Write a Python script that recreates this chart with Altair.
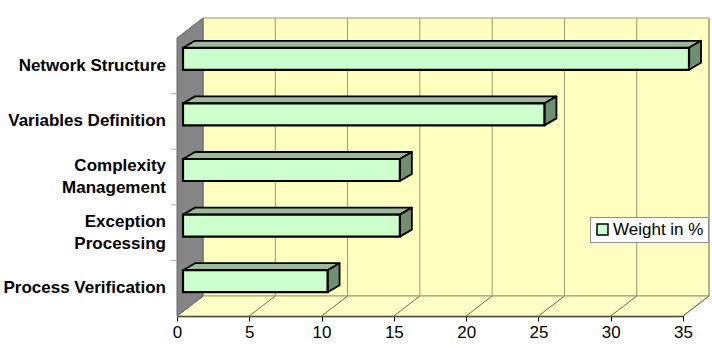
import altair as alt
import pandas as pd

# ---- data ----
categories = ["Network Structure", "Variables Definition", "Complexity\nManagement",
              "Exception\nProcessing", "Process Verification"]
weights = [35, 25, 15, 15, 10]
x_ticks = [0, 5, 10, 15, 20, 25, 30, 35]
series_name = "Weight in %"

# ---- layout / style constants ----
W, H = 506, 278
XMAX = 35
N = len(categories)
PX_X = W / XMAX
PX_Y = H / N
WALL_DX, WALL_DY = 26 / PX_X, 20 / PX_Y
BAR_X0 = 6 / PX_X
BAR_LIFT = 7 / PX_Y
BAR_HALF = 11 / PX_Y
BAR_DX, BAR_DY = 12 / PX_X, 7 / PX_Y
LABEL_LH = 22

FONT = "Liberation Sans"
XS = alt.Scale(domain=[0, XMAX], nice=False, zero=False)
YS = alt.Scale(domain=[0, N], nice=False, zero=False)
X_AXIS = alt.Axis(values=x_ticks, title=None, grid=False, labelFont=FONT, labelFontSize=17,
                  labelColor="black", domainColor="black", domainWidth=1.5, tickColor="black",
                  tickSize=5, labelPadding=3, labelFlush=False)
Y_AXIS = None

# ---- frames built from the arrays ----
rows = []
for j, (c, v) in enumerate(zip(categories, weights)):
    slot = N - 1 - j
    nl = c.count("\n")
    rows.append(dict(label=c, v=v, center=slot + 0.5,
                     label_y=slot + 0.5 + nl * LABEL_LH / 2 / PX_Y, series=series_name))
bars = pd.DataFrame(rows)
bars["x0"] = BAR_X0
bars["x1"] = bars["v"] + BAR_X0
bars["yb"] = bars["center"] + BAR_LIFT - BAR_HALF
bars["yt"] = bars["center"] + BAR_LIFT + BAR_HALF


def poly(pid, pts):
    return [dict(id=pid, k=i, x=px, y=py) for i, (px, py) in enumerate(pts + [pts[0]])]


top_rows, side_rows = [], []
for r in bars.to_dict("records"):
    x0, x1, yb, yt = r["x0"], r["x1"], r["yb"], r["yt"]
    top_rows += poly(r["label"], [(x0, yt), (x1, yt), (x1 + BAR_DX, yt + BAR_DY), (x0 + BAR_DX, yt + BAR_DY)])
    side_rows += poly(r["label"], [(x1, yb), (x1, yt), (x1 + BAR_DX, yt + BAR_DY), (x1 + BAR_DX, yb + BAR_DY)])
tops = pd.DataFrame(top_rows)
sides = pd.DataFrame(side_rows)

wall = pd.DataFrame([dict(x=WALL_DX, x2=XMAX + WALL_DX, y=WALL_DY, y2=N + WALL_DY)])
grid = pd.DataFrame(dict(x=[t + WALL_DX for t in x_ticks], y=WALL_DY, y2=N + WALL_DY))
floor = pd.DataFrame(poly("floor", [(0, 0), (XMAX, 0), (XMAX + WALL_DX, WALL_DY), (WALL_DX, WALL_DY)]))
floor_grid = pd.DataFrame(dict(x=x_ticks, x2=[t + WALL_DX for t in x_ticks], y=0, y2=WALL_DY))
side_wall = pd.DataFrame(poly("side", [(0, 0), (0, N), (WALL_DX, N + WALL_DY), (WALL_DX, WALL_DY)]))
ytick = pd.DataFrame(dict(y=list(range(1, N))))

GRID_C = "#9a9a6e"


def polygon_layer(df, fill, stroke, sw):
    return alt.Chart(df).mark_line(fill=fill, stroke=stroke, strokeWidth=sw,
                                   strokeJoin="round", interpolate="linear").encode(
        x=alt.X("x:Q", scale=XS, axis=X_AXIS),
        y=alt.Y("y:Q", scale=YS, axis=Y_AXIS),
        detail="id:N", order="k:Q")


back = alt.Chart(wall).mark_rect(fill="#FFFFC0", stroke=GRID_C, strokeWidth=1).encode(
    x=alt.X("x:Q", scale=XS, axis=X_AXIS), x2="x2:Q",
    y=alt.Y("y:Q", scale=YS, axis=Y_AXIS), y2="y2:Q")

back_grid = alt.Chart(grid).mark_rule(color=GRID_C, strokeWidth=1).encode(
    x=alt.X("x:Q", scale=XS, axis=X_AXIS),
    y=alt.Y("y:Q", scale=YS, axis=Y_AXIS), y2="y2:Q")

floor_l = polygon_layer(floor, "#FFFFC8", GRID_C, 1)

floor_grid_l = alt.Chart(floor_grid).mark_rule(color="#6e6e50", strokeWidth=1).encode(
    x=alt.X("x:Q", scale=XS, axis=X_AXIS), x2="x2:Q",
    y=alt.Y("y:Q", scale=YS, axis=Y_AXIS), y2="y2:Q")

side_wall_l = polygon_layer(side_wall, "#858585", "#6a6a6a", 1)

ytick_l = alt.Chart(ytick).mark_rule(color="#b0b0b0", strokeWidth=1).encode(
    x=alt.value(-6), x2=alt.value(-1),
    y=alt.Y("y:Q", scale=YS, axis=Y_AXIS))

top_l = polygon_layer(tops, "#9DB89D", "black", 1.8)
side_l = polygon_layer(sides, "#6F8F6F", "black", 1.8)

front_l = alt.Chart(bars).mark_rect(stroke="black", strokeWidth=2.2).encode(
    x=alt.X("x0:Q", scale=XS, axis=X_AXIS), x2="x1:Q",
    y=alt.Y("yb:Q", scale=YS, axis=Y_AXIS), y2="yt:Q",
    color=alt.Color("series:N", scale=alt.Scale(range=["#CCFFCC"]),
                    legend=alt.Legend(orient="none", legendX=413, legendY=179, title=None,
                                      labelFont=FONT, labelFontSize=17, labelColor="black",
                                      symbolType="square", symbolSize=120,
                                      symbolStrokeColor="black", symbolStrokeWidth=1.5,
                                      symbolFillColor="#CCFFCC",
                                      fillColor="white", strokeColor="#909090",
                                      padding=4, labelOffset=2)))

labels_l = alt.Chart(bars).mark_text(align="right", baseline="middle", font=FONT,
                                     fontSize=17, fontWeight="bold", lineBreak="\n",
                                     lineHeight=LABEL_LH, color="black").encode(
    x=alt.value(-11),
    y=alt.Y("label_y:Q", scale=YS, axis=Y_AXIS),
    text="label:N")

chart = alt.layer(back, back_grid, floor_l, floor_grid_l, side_wall_l, ytick_l,
                  top_l, side_l, front_l, labels_l).properties(
    width=W, height=H,
    autosize=alt.AutoSizeParams(type="none"),
    padding={"left": 177, "top": 38, "right": 712 - 177 - W, "bottom": 353 - 38 - H},
    background="white",
).configure_view(stroke=None)

chart.save("out.html", embed_options={"renderer": "svg", "actions": False})
